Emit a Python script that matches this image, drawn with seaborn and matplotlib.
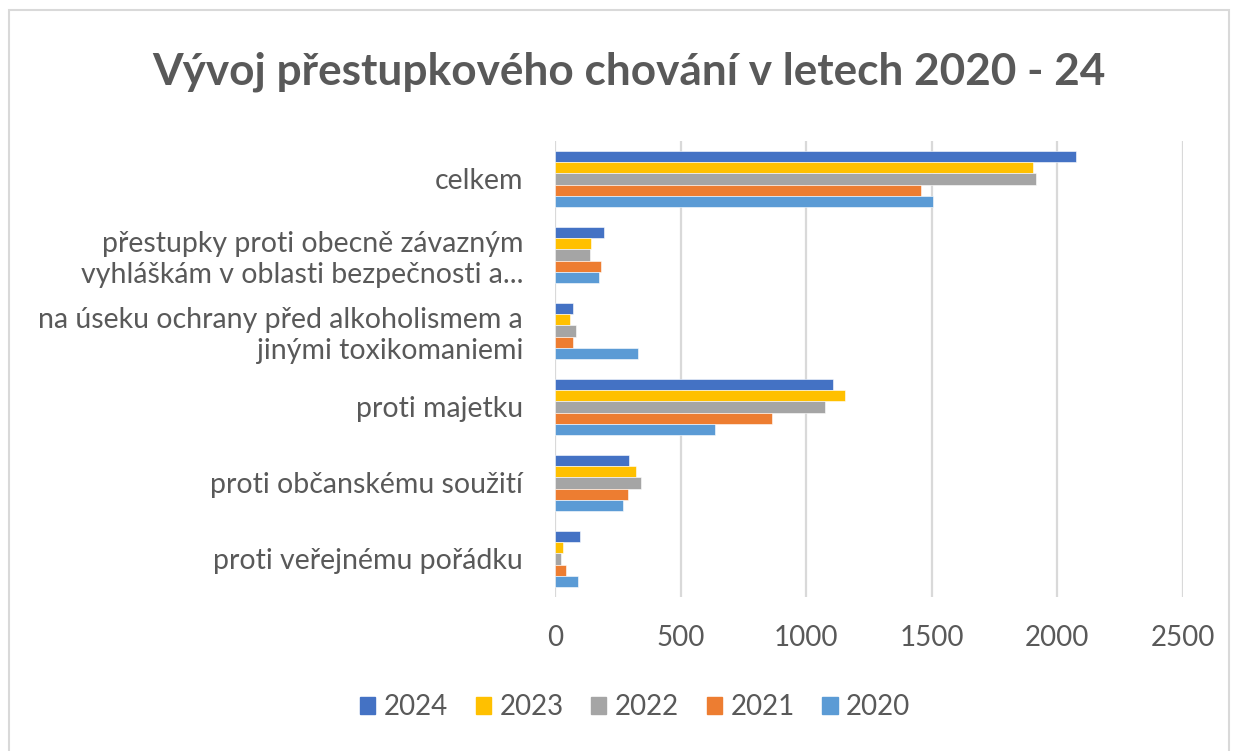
import pandas as pd
import matplotlib.pyplot as plt
import matplotlib.patches as mpatches
import seaborn as sns

# --- data ---
kategorie = [
    'celkem',
    'přestupky proti obecně závazným\nvyhláškám v oblasti bezpečnosti a...',
    'na úseku ochrany před alkoholismem a\njinými toxikomaniemi',
    'proti majetku',
    'proti občanskému soužití',
    'proti veřejnému pořádku',
]
roky = ['2024', '2023', '2022', '2021', '2020']
v2024 = [2073, 197, 72, 1107, 295, 98]
v2023 = [1902, 144, 60, 1154, 323, 32]
v2022 = [1915, 138, 85, 1074, 342, 25]
v2021 = [1457, 184, 72, 862, 290, 45]
v2020 = [1504, 177, 330, 636, 270, 90]
barvy = ['#4472C4', '#FFC000', '#A5A5A5', '#ED7D31', '#5B9BD5']

rows = []
for rok, vals in zip(roky, [v2024, v2023, v2022, v2021, v2020]):
    for kat, v in zip(kategorie, vals):
        rows.append({'kategorie': kat, 'rok': rok, 'pocet': v})
df = pd.DataFrame(rows)

sns.set_style('white')
plt.rcParams['font.family'] = ['Lato', 'DejaVu Sans']
text_col = '#595959'

fig = plt.figure(figsize=(12.38, 7.51), dpi=100)
ax = fig.add_axes([0.4483, 0.2051, 0.5073, 0.6072])

sns.barplot(data=df, x='pocet', y='kategorie', hue='rok', order=kategorie,
            hue_order=roky, palette=barvy, saturation=1, orient='h', width=0.74,
            edgecolor='white', linewidth=0.4, ax=ax)

ax.set_xlim(0, 2500)
ax.set_ylim(5.5, -0.5)
ax.set_xticks([0, 500, 1000, 1500, 2000, 2500])
ax.grid(axis='x', color='#D9D9D9', linewidth=1.6)
ax.set_axisbelow(True)
for s in ax.spines.values():
    s.set_visible(False)
ax.set_xlabel('')
ax.set_ylabel('')
ax.tick_params(axis='x', length=0, pad=20, labelsize=20, labelcolor=text_col)
ax.tick_params(axis='y', length=0, pad=23, labelsize=20.5, labelcolor=text_col)
for lab in ax.get_yticklabels():
    lab.set_horizontalalignment('right')
    lab.set_multialignment('right')

ax.get_legend().remove()
handles = [mpatches.Patch(color=c, label=r) for c, r in zip(barvy, roky)]
fig.legend(handles=handles, loc='center', bbox_to_anchor=(0.513, 0.058), ncol=5,
           frameon=False, fontsize=20, handlelength=0.55, handleheight=0.55,
           handletextpad=0.3, columnspacing=1.0, labelcolor=text_col)

fig.text(0.508, 0.905, 'Vývoj přestupkového chování v letech 2020 - 24',
         ha='center', va='center', fontsize=31.8, fontweight='bold', color=text_col)

# chart area border
fig.patches.append(mpatches.Rectangle((0.007, -0.01), 0.986, 0.997, transform=fig.transFigure,
                                      fill=False, edgecolor='#D9D9D9', linewidth=1.5))

fig.savefig('out.png', dpi=100)
